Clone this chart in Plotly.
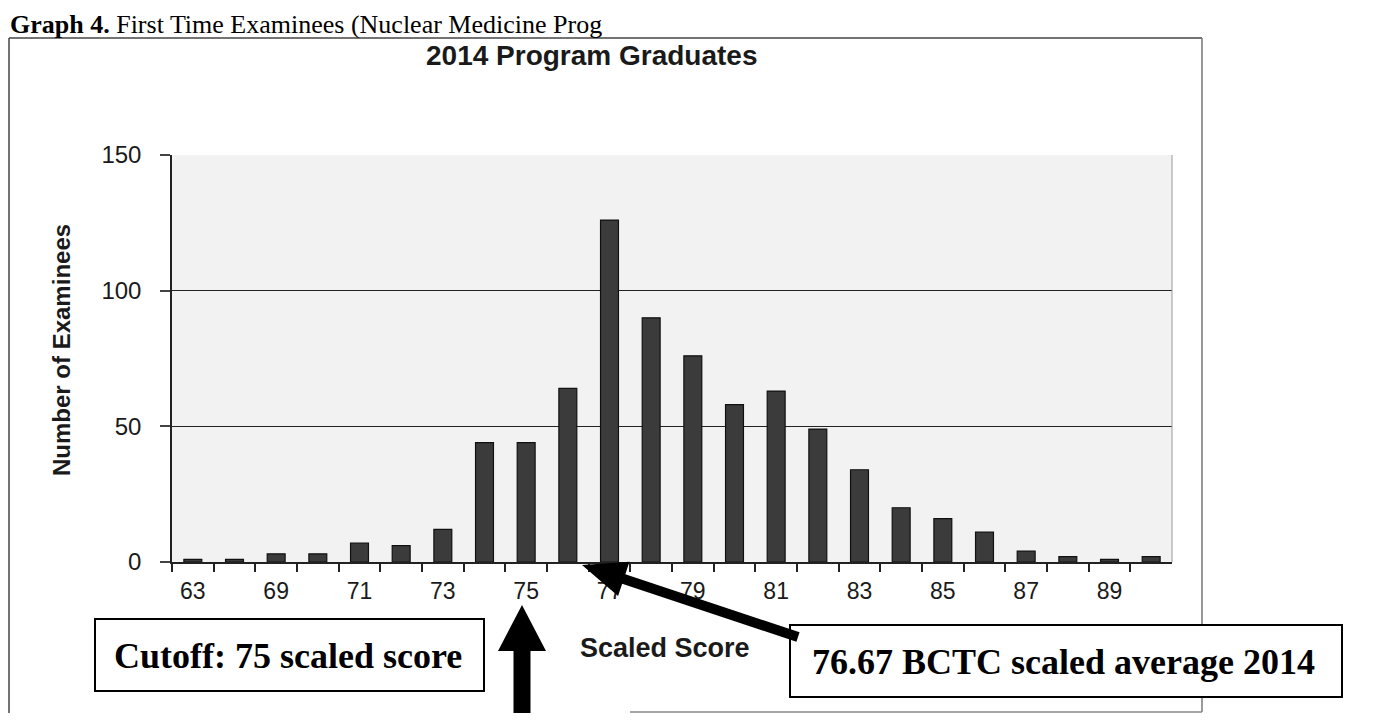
import plotly.graph_objects as go

# data
scores = ["63", "67", "69", "70", "71", "72", "73", "74", "75", "76", "77", "78",
          "79", "80", "81", "82", "83", "84", "85", "86", "87", "88", "89", "90"]
examinees = [1, 1, 3, 3, 7, 6, 12, 44, 44, 64, 126, 90,
             76, 58, 63, 49, 34, 20, 16, 11, 4, 2, 1, 2]
score_labels = ["63", "", "69", "", "71", "", "73", "", "75", "", "77", "",
                "79", "", "81", "", "83", "", "85", "", "87", "", "89", ""]
y_ticks = [0, 50, 100, 150]

# page body keeps its default 8px margin, so the figure is drawn 8px in
OFF = 8
W, H = 1376 - 2 * OFF, 721 - 2 * OFF
SANS = "Liberation Sans, Arial, sans-serif"
SERIF = "Liberation Serif, Times New Roman, serif"


def px(x):
    # screen pixel -> paper fraction
    return (x - OFF) / W


def py(y):
    return 1 - (y - OFF) / H


def arrow_path(tip, tail, head_len, head_half, shaft_half):
    # filled arrow polygon in paper coords
    dx, dy = tail[0] - tip[0], tail[1] - tip[1]
    n = (dx * dx + dy * dy) ** 0.5
    ux, uy = dx / n, dy / n
    vx, vy = -uy, ux
    bx, by = tip[0] + ux * head_len, tip[1] + uy * head_len
    pts = [
        tip,
        (bx + vx * head_half, by + vy * head_half),
        (bx + vx * shaft_half, by + vy * shaft_half),
        (tail[0] + vx * shaft_half, tail[1] + vy * shaft_half),
        (tail[0] - vx * shaft_half, tail[1] - vy * shaft_half),
        (bx - vx * shaft_half, by - vy * shaft_half),
        (bx - vx * head_half, by - vy * head_half),
    ]
    return "M " + " L ".join(f"{px(a):.5f},{py(b):.5f}" for a, b in pts) + " Z"


fig = go.Figure()

fig.add_trace(
    go.Bar(
        x=scores,
        y=examinees,
        width=0.43,
        marker=dict(color="#3b3b3b", line=dict(color="#111111", width=1.2)),
        showlegend=False,
    )
)

fig.update_layout(
    template="none",
    width=W,
    height=H,
    autosize=False,
    margin=dict(l=0, r=0, t=0, b=0, pad=0),
    paper_bgcolor="white",
    plot_bgcolor="#f2f2f2",
)

fig.update_xaxes(
    domain=[px(172), px(1172)],
    automargin=False,
    type="category",
    tickvals=scores,
    ticktext=score_labels,
    tickson="boundaries",
    ticks="outside",
    ticklen=8,
    tickwidth=1.5,
    tickcolor="#222222",
    ticklabelstandoff=8,
    showline=True,
    linecolor="#222222",
    linewidth=1.5,
    showgrid=False,
    zeroline=False,
    tickfont=dict(family=SANS, size=23, color="#1a1a1a"),
)

fig.update_yaxes(
    domain=[py(562), py(155)],
    automargin=False,
    range=[0, 150],
    tickvals=y_ticks,
    ticks="outside",
    ticklen=10,
    tickwidth=1.5,
    tickcolor="#444444",
    ticklabelstandoff=14,
    showline=True,
    linecolor="#222222",
    linewidth=1.5,
    showgrid=True,
    gridcolor="#222222",
    gridwidth=1.3,
    zeroline=False,
    tickfont=dict(family=SANS, size=24, color="#1a1a1a"),
)

shapes = [
    # outer chart frame
    dict(type="line", xref="paper", yref="paper", x0=px(9), y0=py(38), x1=px(1202), y1=py(38),
         line=dict(color="#444444", width=1.5)),
    dict(type="line", xref="paper", yref="paper", x0=px(9), y0=py(38), x1=px(9), y1=py(713),
         line=dict(color="#444444", width=1.5)),
    dict(type="line", xref="paper", yref="paper", x0=px(1202), y0=py(38), x1=px(1202), y1=py(712),
         line=dict(color="#777777", width=1.5)),
    dict(type="line", xref="paper", yref="paper", x0=px(630), y0=py(712), x1=px(1202), y1=py(712),
         line=dict(color="#888888", width=1.5)),
    # right edge of plot area
    dict(type="line", xref="paper", yref="paper", x0=px(1172), y0=py(155), x1=px(1172), y1=py(562),
         line=dict(color="#999999", width=1)),
    # callout boxes
    dict(type="rect", xref="paper", yref="paper", x0=px(95), y0=py(619), x1=px(484), y1=py(691),
         line=dict(color="black", width=2), fillcolor="white"),
    dict(type="rect", xref="paper", yref="paper", x0=px(790), y0=py(625), x1=px(1342), y1=py(697),
         line=dict(color="black", width=2), fillcolor="white"),
    # arrows
    dict(type="path", xref="paper", yref="paper", path=arrow_path((522, 605), (522, 720), 46, 24, 8.5),
         fillcolor="black", line=dict(width=0)),
    dict(type="path", xref="paper", yref="paper", path=arrow_path((582, 565), (798, 637), 44, 18, 5),
         fillcolor="black", line=dict(width=0)),
]
fig.update_layout(shapes=shapes)

annotations = [
    dict(text="<b>Graph 4.</b> First Time Examinees (Nuclear Medicine Prog",
         x=px(8), y=py(8), xanchor="left", yanchor="top",
         font=dict(family=SERIF, size=26, color="black")),
    dict(text="<b>2014 Program Graduates</b>", x=px(592), y=py(56),
         xanchor="center", yanchor="middle", font=dict(family=SANS, size=28, color="#1a1a1a")),
    dict(text="<b>Number of Examinees</b>", x=px(61), y=py(350), textangle=-90,
         xanchor="center", yanchor="middle", font=dict(family=SANS, size=24, color="#1a1a1a")),
    dict(text="<b>Scaled Score</b>", x=px(665), y=py(648),
         xanchor="center", yanchor="middle", font=dict(family=SANS, size=27, color="#1a1a1a")),
    dict(text="<b>Cutoff: 75 scaled score</b>", x=px(288), y=py(656),
         xanchor="center", yanchor="middle", font=dict(family=SERIF, size=36, color="black")),
    dict(text="<b>76.67 BCTC scaled average 2014</b>", x=px(1063), y=py(662),
         xanchor="center", yanchor="middle", font=dict(family=SERIF, size=36, color="black")),
]
for a in annotations:
    a.update(xref="paper", yref="paper", showarrow=False)
fig.update_layout(annotations=annotations)

fig.write_html("out.html")
